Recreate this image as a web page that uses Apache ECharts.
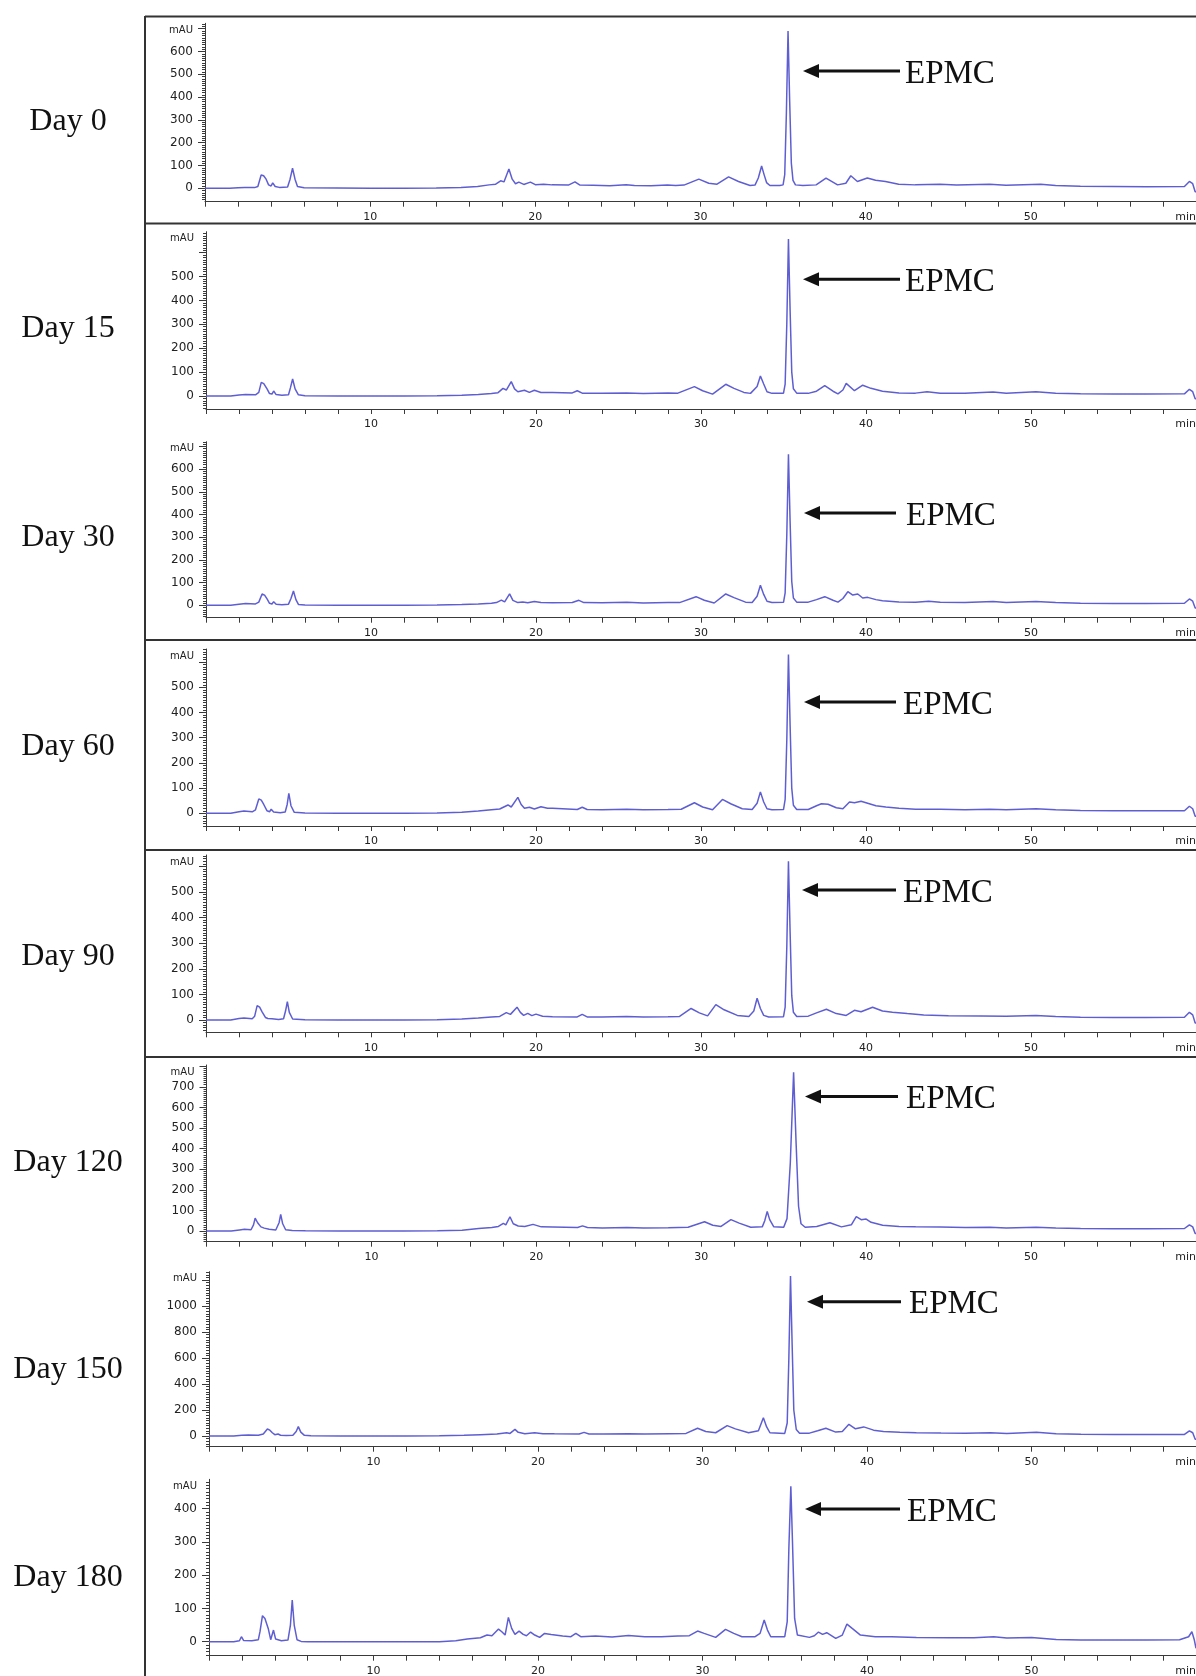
<!DOCTYPE html>
<html><head><meta charset="utf-8">
<script src="https://cdn.jsdelivr.net/npm/echarts@6/dist/echarts.min.js"></script>
<style>html,body{margin:0;padding:0;background:#fff}#c{width:1196px;height:1676px}</style>
</head><body><div id="c"></div>
<script>
// ---------------- DATA ----------------
const dayLabels = ['Day 0','Day 15','Day 30','Day 60','Day 90','Day 120','Day 150','Day 180'];
const peakName = 'EPMC';
const xUnit = 'min';
const yUnit = 'mAU';
const xTickLabels = [10, 20, 30, 40, 50];

const yTicks0 = [0,100,200,300,400,500,600];
const yTicks15 = [0,100,200,300,400,500];
const yTicks30 = [0,100,200,300,400,500,600];
const yTicks60 = [0,100,200,300,400,500];
const yTicks90 = [0,100,200,300,400,500];
const yTicks120 = [0,100,200,300,400,500,600,700];
const yTicks150 = [0,200,400,600,800,1000];
const yTicks180 = [0,100,200,300,400];

const day0 = [[0,0],[1.5,0],[2.0,2],[2.4,3],[3.0,3],[3.2,8],[3.4,58],[3.55,55],[3.7,40],[3.85,15],[4.0,10],[4.1,24],[4.25,8],[4.5,4],[5.0,6],[5.15,40],[5.3,88],[5.45,40],[5.6,8],[6.0,2],[8,1],[10,0],[12,0],[14,1],[15.5,3],[16.5,8],[17.2,15],[17.6,18],[17.9,33],[18.1,28],[18.4,85],[18.6,40],[18.8,20],[19.0,27],[19.3,17],[19.7,27],[20.0,16],[20.5,18],[21,15],[22.0,14],[22.4,28],[22.7,14],[23.5,13],[24.5,11],[25.5,16],[26,12],[27,11],[28.0,14],[28.5,12],[29.0,14],[29.9,40],[30.5,22],[31.0,18],[31.7,50],[32.3,30],[33.0,12],[33.3,14],[33.5,45],[33.7,98],[33.85,60],[34.0,25],[34.2,12],[34.8,12],[35.0,15],[35.1,60],[35.2,330],[35.3,690],[35.4,380],[35.5,110],[35.6,35],[35.75,15],[36.2,12],[37.0,15],[37.6,45],[38.3,15],[38.8,22],[39.1,55],[39.5,30],[40.1,45],[40.6,35],[41.2,30],[42,18],[43,15],[44.5,18],[45.5,14],[47.5,18],[48.5,13],[50.6,18],[51.5,12],[53,9],[55,8],[57,7],[59.3,8],[59.6,30],[59.8,20],[59.95,-15],[60,-15]];

const day15 = [[0,0],[1.5,0],[2.0,4],[2.4,6],[3.0,5],[3.2,15],[3.35,57],[3.5,52],[3.7,30],[3.85,10],[4.0,8],[4.1,21],[4.25,6],[4.6,3],[5.0,5],[5.12,35],[5.25,71],[5.4,30],[5.6,5],[6.0,1],[8,0],[10,0],[12,0],[14,1],[15.5,3],[16.5,6],[17.3,10],[17.7,14],[18.0,32],[18.2,25],[18.5,60],[18.7,30],[18.9,18],[19.3,24],[19.6,15],[19.9,24],[20.3,15],[21,15],[22.2,13],[22.5,22],[22.8,12],[24,11],[25.5,13],[26.5,10],[28,13],[28.6,12],[29.6,39],[30.1,22],[30.7,8],[31.5,49],[32.0,32],[32.6,15],[33.0,11],[33.4,40],[33.6,84],[33.8,50],[34.0,18],[34.3,11],[35.0,12],[35.1,50],[35.2,300],[35.3,657],[35.4,360],[35.5,100],[35.6,30],[35.8,12],[36.5,11],[37.0,20],[37.5,43],[38.0,20],[38.3,9],[38.6,25],[38.8,53],[39.3,22],[39.8,45],[40.3,32],[41,20],[42,13],[43,12],[43.7,18],[44.5,12],[46,11],[47.7,17],[48.5,11],[50.3,18],[51.5,12],[53,9],[55,8],[57,8],[59.3,9],[59.6,28],[59.8,18],[59.95,-12],[60,-12]];

const day30 = [[0,0],[1.5,0],[2.0,5],[2.4,8],[3.0,6],[3.2,14],[3.4,50],[3.55,45],[3.7,28],[3.85,9],[4.0,6],[4.1,16],[4.25,5],[4.6,2],[5.0,5],[5.15,30],[5.3,63],[5.45,25],[5.6,4],[6,1],[8,0],[10,0],[12,0],[14,1],[15.5,3],[16.5,6],[17.3,9],[17.6,12],[17.9,23],[18.1,15],[18.4,50],[18.6,22],[18.9,12],[19.2,15],[19.5,11],[19.9,17],[20.3,12],[21,11],[22.2,12],[22.6,22],[22.9,12],[24,11],[25.5,14],[26.5,10],[28,12],[28.7,12],[29.7,38],[30.2,22],[30.8,10],[31.5,50],[32.0,34],[32.7,14],[33.1,12],[33.4,40],[33.6,88],[33.8,48],[34.0,18],[34.3,12],[35.0,13],[35.1,55],[35.2,310],[35.3,665],[35.4,370],[35.5,105],[35.6,32],[35.8,14],[36.5,14],[37.0,25],[37.5,38],[38.0,22],[38.3,14],[38.6,30],[38.9,60],[39.2,45],[39.5,50],[39.8,32],[40.1,35],[40.6,25],[41,20],[42,15],[43,14],[43.8,18],[44.5,13],[46,12],[47.7,17],[48.5,12],[50.3,17],[51.5,12],[53,9],[55,8],[57,8],[59.3,9],[59.6,28],[59.8,18],[59.95,-12],[60,-12]];

const day60 = [[0,0],[1.5,0],[2.0,6],[2.3,9],[2.8,6],[3.0,14],[3.2,57],[3.35,52],[3.5,35],[3.7,10],[3.85,6],[3.95,16],[4.1,5],[4.5,2],[4.8,5],[4.92,35],[5.02,79],[5.15,30],[5.35,4],[6,1],[8,0],[10,0],[12,0],[14,1],[15.5,4],[16.5,9],[17.3,14],[17.8,17],[18.3,33],[18.5,25],[18.9,63],[19.1,35],[19.3,20],[19.6,24],[19.9,17],[20.3,26],[20.7,20],[21,20],[22.5,15],[22.8,24],[23.1,15],[24,14],[25.5,16],[26.5,14],[28,15],[28.8,16],[29.6,42],[30.1,25],[30.7,14],[31.3,55],[31.8,38],[32.5,18],[33.1,15],[33.4,40],[33.6,85],[33.8,45],[34.0,18],[34.3,14],[35.0,15],[35.1,55],[35.2,290],[35.3,630],[35.4,350],[35.5,100],[35.6,32],[35.8,15],[36.5,15],[37.0,30],[37.3,38],[37.7,36],[38.2,22],[38.6,18],[39.0,45],[39.3,42],[39.7,48],[40.1,40],[40.6,30],[41.2,25],[42,20],[43,16],[44.5,16],[46,14],[47.5,16],[48.5,14],[50.3,18],[51.5,14],[53,11],[55,10],[57,10],[59.3,10],[59.6,28],[59.8,18],[59.95,-12],[60,-12]];

const day90 = [[0,0],[1.5,0],[2.0,6],[2.3,8],[2.8,5],[2.95,15],[3.1,56],[3.25,50],[3.4,32],[3.6,10],[3.75,6],[3.85,13],[4.0,5],[4.4,2],[4.7,5],[4.82,35],[4.93,72],[5.05,30],[5.25,4],[6,1],[8,0],[10,0],[12,0],[14,1],[15.5,4],[16.5,8],[17.3,12],[17.8,14],[18.2,29],[18.45,22],[18.85,50],[19.05,30],[19.25,18],[19.5,26],[19.75,17],[20.0,23],[20.4,15],[21,13],[22.5,12],[22.8,22],[23.1,12],[24,12],[25.5,14],[26.5,12],[28,13],[28.7,14],[29.4,45],[29.9,28],[30.4,16],[30.9,60],[31.4,40],[32.2,18],[32.9,14],[33.2,35],[33.4,85],[33.6,45],[33.8,18],[34.1,12],[35.0,13],[35.1,50],[35.2,285],[35.3,620],[35.4,345],[35.5,95],[35.6,30],[35.8,14],[36.5,15],[37.0,28],[37.6,42],[38.2,25],[38.8,18],[39.3,38],[39.7,32],[40.4,50],[41.0,35],[41.6,30],[42.5,25],[43.5,20],[45,17],[47,16],[48.5,15],[50.3,18],[51.5,14],[53,11],[55,10],[57,10],[59.3,11],[59.6,30],[59.8,20],[59.95,-12],[60,-12]];

const day120 = [[0,0],[1.5,0],[2.0,5],[2.3,8],[2.7,6],[2.85,30],[2.95,62],[3.1,40],[3.3,20],[3.5,14],[3.8,8],[4.2,5],[4.4,40],[4.5,81],[4.62,35],[4.8,6],[5.2,2],[6,1],[8,0],[10,0],[12,0],[14,1],[15.5,4],[16.5,12],[17.3,17],[17.7,22],[18.0,37],[18.15,30],[18.4,69],[18.6,35],[18.9,24],[19.3,22],[19.8,32],[20.3,20],[21,19],[22.5,17],[22.8,25],[23.1,17],[24,15],[25.5,17],[26.5,15],[28,16],[29.2,18],[30.2,45],[30.7,28],[31.2,22],[31.8,55],[32.3,38],[33,18],[33.7,20],[33.85,50],[34.0,95],[34.15,55],[34.4,20],[35.0,18],[35.2,60],[35.4,330],[35.6,770],[35.75,430],[35.9,120],[36.05,35],[36.3,18],[37.0,22],[37.8,40],[38.5,20],[39.1,30],[39.4,70],[39.7,55],[40.0,58],[40.3,42],[41,28],[42,22],[43,20],[44.5,19],[46,17],[47.5,18],[48.5,15],[50.3,18],[51.5,14],[53,12],[55,11],[57,11],[59.3,12],[59.6,30],[59.8,20],[59.95,-12],[60,-12]];

const day150 = [[0,0],[1.5,0],[2.0,5],[2.4,8],[3.0,6],[3.3,15],[3.55,54],[3.7,45],[3.85,25],[4.0,10],[4.2,15],[4.35,6],[4.7,3],[5.1,6],[5.3,35],[5.43,72],[5.58,30],[5.8,5],[6.2,1],[8,0],[10,0],[12,0],[14,2],[15.5,5],[16.5,10],[17.5,15],[18.1,25],[18.3,20],[18.6,51],[18.8,28],[19.2,18],[19.8,25],[20.3,18],[21,17],[22.5,16],[22.8,28],[23.1,16],[24,15],[25.5,18],[26.5,15],[28,18],[29.0,20],[29.7,60],[30.2,35],[30.8,25],[31.5,80],[32.0,55],[32.8,25],[33.4,40],[33.7,140],[33.9,70],[34.1,25],[35.0,20],[35.15,100],[35.25,600],[35.35,1230],[35.45,700],[35.55,200],[35.7,50],[35.9,22],[36.5,22],[37.0,40],[37.5,60],[38.1,30],[38.5,35],[38.9,90],[39.3,55],[39.8,70],[40.4,45],[41,35],[42,28],[43,25],[44.5,23],[46,22],[47.5,25],[48.5,20],[50.3,28],[51.5,18],[53,14],[55,12],[57,12],[59.3,12],[59.6,40],[59.8,25],[59.95,-25],[60,-25]];

const day180 = [[0,0],[1.5,0],[1.85,3],[1.97,15],[2.1,4],[2.6,3],[3.0,6],[3.1,30],[3.25,78],[3.4,70],[3.5,72],[3.6,40],[3.75,6],[3.85,10],[3.92,35],[4.05,8],[4.4,3],[4.8,5],[4.95,50],[5.06,125],[5.18,50],[5.35,6],[5.6,1],[6,0],[8,0],[10,0],[12,0],[14,0],[15.0,3],[15.7,8],[16.5,12],[16.9,20],[17.2,18],[17.6,38],[17.8,30],[18.0,20],[18.2,73],[18.4,40],[18.6,22],[18.85,32],[19.1,22],[19.3,18],[19.55,29],[19.8,20],[20.1,13],[20.4,25],[20.8,22],[21.5,17],[22.0,15],[22.3,25],[22.6,15],[23.5,17],[24.5,14],[25.5,19],[26.5,15],[27.5,15],[28.5,17],[29.2,18],[29.7,32],[30.1,25],[30.8,13],[31.4,37],[31.9,25],[32.4,15],[33.2,15],[33.5,25],[33.75,65],[33.95,35],[34.15,15],[35.0,15],[35.15,60],[35.25,280],[35.37,467],[35.47,300],[35.6,70],[35.77,20],[36.5,13],[36.8,18],[37.05,29],[37.3,22],[37.55,27],[38.1,10],[38.5,20],[38.78,53],[39.1,40],[39.6,20],[40.5,15],[41.5,15],[43,13],[45,12],[46.5,12],[47.7,15],[48.5,11],[50,13],[51.5,7],[53,5],[55,5],[57,5],[59,6],[59.55,15],[59.75,30],[59.9,5],[60,-20]];

const traces = [day0, day15, day30, day60, day90, day120, day150, day180];
const yTickSets = [yTicks0, yTicks15, yTicks30, yTicks60, yTicks90, yTicks120, yTicks150, yTicks180];

// ---------------- LAYOUT (pixels / styles only) ----------------
const panels = [
  {top:23.3,  bottom:201.7,  left:205, yMin:-58.8, yMax:723.7,  major:100, minor:10, arrowY:71,     tipX:803, tailX:900, textX:905, dayY:122},
  {top:231.7, bottom:409,    left:206, yMin:-54.4, yMax:687.4,  major:100, minor:10, arrowY:279.3,  tipX:803, tailX:900, textX:905, dayY:329},
  {top:441.7, bottom:617.7,  left:206, yMin:-54.6, yMax:720.7,  major:100, minor:10, arrowY:513,    tipX:804, tailX:896, textX:906, dayY:537.6},
  {top:649,   bottom:826,    left:206, yMin:-50.4, yMax:652,    major:100, minor:10, arrowY:702,    tipX:804, tailX:896, textX:903, dayY:747},
  {top:855,   bottom:1032.3, left:206, yMin:-48,   yMax:644.5,  major:100, minor:10, arrowY:890,    tipX:802, tailX:896, textX:903, dayY:956.6},
  {top:1065,  bottom:1241.7, left:206.5, yMin:-52, yMax:805.8,  major:100, minor:10, arrowY:1096.6, tipX:805, tailX:898, textX:906, dayY:1163},
  {top:1271.7,bottom:1446.7, left:209, yMin:-82.3, yMax:1263.8, major:200, minor:20, arrowY:1301.8, tipX:807, tailX:901, textX:909, dayY:1370},
  {top:1479.3,bottom:1655.7, left:209, yMin:-42,   yMax:487.7,  major:100, minor:10, arrowY:1509,   tipX:805, tailX:900, textX:907, dayY:1577.6}
];
const frameSeparators = [223.5, 640, 850, 1057];
const lineColor = '#5e5ed2';
const axisColor = '#3a3a3a';
const textColor = '#222';
const sans = 'DejaVu Sans, Liberation Sans, Arial, sans-serif';
const serif = 'Liberation Serif, Times New Roman, serif';

function stepValues(lo, hi, step) {
  const out = [];
  for (let v = Math.ceil(lo / step) * step; v <= hi + 1e-9; v += step) out.push(v);
  return out;
}

const grids = [], xAxes = [], yAxes = [], series = [], graphics = [];

panels.forEach((p, i) => {
  grids.push({left: p.left, right: 0, top: p.top, height: p.bottom - p.top, containLabel: false, outerBoundsMode: 'none'});
  xAxes.push({
    type: 'value', gridIndex: i, min: 0, max: 60, interval: 2, position: 'bottom',
    axisLine: {show: true, onZero: false, lineStyle: {color: axisColor, width: 1}},
    axisTick: {show: true, length: 5, lineStyle: {color: axisColor}},
    splitLine: {show: false},
    axisLabel: {
      show: true, margin: 10, fontSize: 11, color: textColor, fontFamily: sans,
      alignMaxLabel: 'right', hideOverlap: false,
      formatter: v => (v === 60 ? xUnit : (xTickLabels.indexOf(v) >= 0 ? String(v) : ''))
    }
  });
  // main y axis: line, minor ticks, labels, unit
  yAxes.push({
    type: 'value', gridIndex: i, min: p.yMin, max: p.yMax, position: 'left',
    axisLine: {show: true, onZero: false, lineStyle: {color: axisColor, width: 1}},
    axisTick: {show: true, length: 3, customValues: stepValues(p.yMin, p.yMax, p.minor), lineStyle: {color: axisColor}},
    splitLine: {show: false},
    axisLabel: {show: true, customValues: yTickSets[i], margin: 12, fontSize: 12, color: textColor, fontFamily: sans,
      formatter: v => String(v)},
    name: yUnit, nameLocation: 'end', nameGap: -7,
    nameTextStyle: {fontSize: 10, color: textColor, fontFamily: sans, align: 'right', verticalAlign: 'middle', padding: [0, 12, 0, 0]}
  });
  // overlay y axis: major ticks
  yAxes.push({
    type: 'value', gridIndex: i, min: p.yMin, max: p.yMax, position: 'left',
    axisLine: {show: false, onZero: false},
    axisTick: {show: true, length: 7, customValues: stepValues(0, p.yMax, p.major), lineStyle: {color: axisColor}},
    splitLine: {show: false},
    axisLabel: {show: false}
  });
  series.push({
    type: 'line', xAxisIndex: i, yAxisIndex: 2 * i, data: traces[i],
    showSymbol: false, symbol: 'none', smooth: false, clip: true,
    lineStyle: {color: lineColor, width: 1.5}, silent: true
  });
  // annotations
  graphics.push({type: 'text', x: 68, y: p.dayY,
    style: {text: dayLabels[i], font: '32px ' + serif, fill: '#111', align: 'center', verticalAlign: 'middle'}});
  graphics.push({type: 'line', shape: {x1: p.tipX + 12, y1: p.arrowY, x2: p.tailX, y2: p.arrowY},
    style: {stroke: '#111', lineWidth: 3}});
  graphics.push({type: 'polygon', shape: {points: [[p.tipX, p.arrowY], [p.tipX + 16, p.arrowY - 7], [p.tipX + 16, p.arrowY + 7]]},
    style: {fill: '#111'}});
  graphics.push({type: 'text', x: p.textX, y: p.arrowY + 3,
    style: {text: peakName, font: '33px ' + serif, fill: '#111', align: 'left', verticalAlign: 'middle'}});
});

// frame
graphics.push({type: 'line', shape: {x1: 145, y1: 16, x2: 145, y2: 1676}, style: {stroke: '#333', lineWidth: 2}});
graphics.push({type: 'line', shape: {x1: 145, y1: 16.5, x2: 1196, y2: 16.5}, style: {stroke: '#333', lineWidth: 2}});
frameSeparators.forEach(y => graphics.push({type: 'line', shape: {x1: 145, y1: y, x2: 1196, y2: y}, style: {stroke: '#333', lineWidth: 2}}));

const chart = echarts.init(document.getElementById('c'), null, {renderer: 'canvas'});
chart.setOption({
  animation: false,
  backgroundColor: '#fff',
  grid: grids, xAxis: xAxes, yAxis: yAxes, series: series,
  graphic: {elements: graphics}
});
</script></body></html>
